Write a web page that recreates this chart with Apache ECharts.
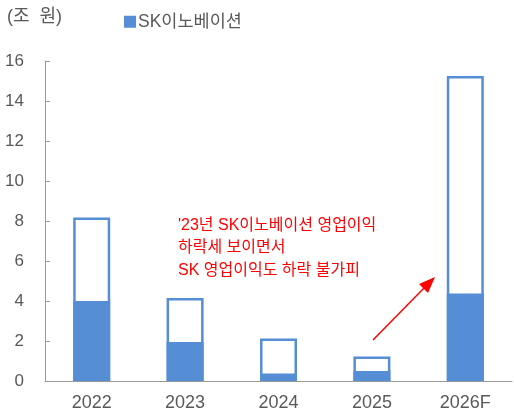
<!DOCTYPE html>
<html>
<head>
<meta charset="utf-8">
<script src="https://cdn.jsdelivr.net/npm/echarts@6/dist/echarts.min.js"></script>
<style>
  html, body { margin: 0; padding: 0; background: #fff; }
  #main { width: 514px; height: 412px; }
</style>
</head>
<body>
<div id="main"></div>
<script>
const years = ['2022', '2023', '2024', '2025', '2026F'];
const skInnovation = [4.0, 1.95, 0.38, 0.5, 4.37];
const skTotal = [8.17, 4.15, 2.13, 1.23, 15.25];
const noteLines = ["'23년 SK이노베이션 영업이익", '하락세 보이면서', 'SK 영업이익도 하락 불가피'];

const BLUE = '#558ed5';
const FONT = '"Liberation Sans", "Noto Sans CJK KR", sans-serif';

const chart = echarts.init(document.getElementById('main'));
chart.setOption({
  animation: false,
  grid: { left: 45, right: 2, top: 61, bottom: 30 },
  legend: {
    data: ['SK이노베이션'],
    left: 119, top: 8,
    itemWidth: 10, itemHeight: 10,
    itemGap: 4,
    icon: 'rect',
    textStyle: { fontSize: 17.5, color: '#595959', fontFamily: FONT, padding: [0, 0, 0, -2] }
  },
  xAxis: {
    type: 'category',
    data: years,
    axisLine: { lineStyle: { color: '#999' } },
    axisTick: { inside: true, length: 5, lineStyle: { color: '#999' } },
    axisLabel: { fontSize: 18, color: '#595959', fontFamily: FONT, margin: 13 }
  },
  yAxis: {
    type: 'value',
    min: 0, max: 16, interval: 2,
    splitLine: { show: false },
    axisLine: { show: true, lineStyle: { color: '#999' } },
    axisTick: { show: true, inside: true, length: 5, lineStyle: { color: '#999' } },
    axisLabel: { fontSize: 17, color: '#595959', fontFamily: FONT, margin: 21 }
  },
  series: [
    {
      name: 'SK',
      type: 'bar',
      data: skTotal,
      barWidth: 37,
      barGap: '-100%',
      itemStyle: { color: '#fff', borderColor: BLUE, borderWidth: 2.5 },
      z: 2
    },
    {
      name: 'SK이노베이션',
      type: 'bar',
      data: skInnovation,
      barWidth: 37,
      itemStyle: { color: BLUE, borderColor: BLUE, borderWidth: 2.5 },
      z: 3
    }
  ],
  graphic: [
    {
      type: 'text', left: 7, top: 8,
      style: { text: '(조  원)', fontSize: 18, fill: '#595959', fontFamily: FONT }
    },
    {
      type: 'text', left: 178, top: 214,
      style: { text: noteLines.join('\n'), fontSize: 16, lineHeight: 22.5, fill: '#ff0000', fontFamily: FONT }
    },
    {
      type: 'line',
      shape: { x1: 373, y1: 340, x2: 427, y2: 285 },
      style: { stroke: '#ff0000', lineWidth: 1.5 }
    },
    {
      type: 'polygon',
      shape: { points: [[435, 277], [419, 284], [428, 293]] },
      style: { fill: '#ff0000' }
    }
  ]
});
</script>
</body>
</html>
